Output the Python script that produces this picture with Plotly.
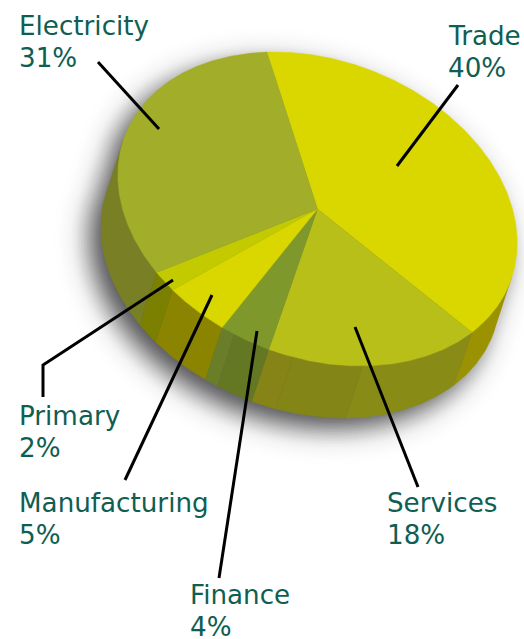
import math
import numpy as np
import plotly.graph_objects as go

# Share of each sector, clockwise from the top of the disc
categories = ["Trade", "Services", "Finance", "Manufacturing", "Primary", "Electricity"]
shares = [40, 18, 4, 5, 2, 31]
top_colors = ["#DAD700", "#B9BF19", "#7F982B", "#DAD700", "#C3CB00", "#A2AE2A"]

# Wall shading per sector: fraction of the sector's arc and its colour
wall_facets = [
    [(1.0, "#9A9200")],
    [(0.58, "#888C16"), (0.31, "#838517"), (0.11, "#868416")],
    [(0.73, "#647824"), (0.27, "#6A7D29")],
    [(1.0, "#8A8400")],
    [(1.0, "#7B8000")],
    [(1.0, "#787F24")],
]

# Disc projection: centre, semi-axes, tilt, starting angle, and wall depth
CX, CY = 317.5, 209.0
SEMI_A, SEMI_B = 206.0, 148.6
TILT = np.radians(20.8)
START = -120.0
DEPTH_X, DEPTH_Y = -17.0, 52.0
WALL_FROM, WALL_TO = -2.0, 178.0

# Drop shadow: offset, blur spread and peak opacity
SHADOW_DX, SHADOW_DY = -11.0, 11.0
SHADOW_SIGMA = 13.0
SHADOW_PEAK = 0.92

# Label left edge and first-line baseline, then leader polylines
label_pos = {
    "Trade": (447, 46),
    "Services": (386, 513),
    "Finance": (189, 605),
    "Manufacturing": (18, 513),
    "Primary": (18, 426),
    "Electricity": (18, 36),
}
LINE_PITCH = 32
leaders = {
    "Trade": [(458, 85), (397, 166)],
    "Services": [(355, 327), (418, 487)],
    "Finance": [(257, 331), (219, 578)],
    "Manufacturing": [(212, 295), (125, 480)],
    "Primary": [(173, 280), (43, 365), (43, 397)],
    "Electricity": [(98, 62), (159, 129)],
}
TEXT_COLOR = "#0F5E52"
FONT_SIZE = 26.2


def rim(deg):
    t = np.radians(np.asarray(deg, dtype=float))
    u, v = SEMI_A * np.cos(t), SEMI_B * np.sin(t)
    return CX + u * np.cos(TILT) - v * np.sin(TILT), CY + u * np.sin(TILT) + v * np.cos(TILT)


def arc(a, b):
    return np.linspace(a, b, max(int(abs(b - a) * 2), 2))


def offset_outline(x, y, d):
    """Push a closed clockwise outline outward by d pixels along its normals."""
    dx = np.roll(x, -1) - np.roll(x, 1)
    dy = np.roll(y, -1) - np.roll(y, 1)
    n = np.hypot(dx, dy)
    n[n == 0] = 1
    return x + d * dy / n, y - d * dx / n


fig = go.Figure()

# Soft shadow built from stacked dilated silhouettes, outermost first
x_top, y_top = rim(arc(WALL_TO, WALL_FROM + 360))
x_bot, y_bot = rim(arc(WALL_FROM, WALL_TO))
sx = np.concatenate([x_top, x_bot + DEPTH_X]) + SHADOW_DX
sy = np.concatenate([y_top, y_bot + DEPTH_Y]) + SHADOW_DY
dists = np.arange(36, -30, -1.5)
prev = 0.0
for d in dists:
    tgt = SHADOW_PEAK * 0.5 * (1 - math.erf(d / SHADOW_SIGMA / math.sqrt(2)))
    alpha = 1 - (1 - tgt) / (1 - prev)
    prev = tgt
    ox, oy = offset_outline(sx, sy, d)
    fig.add_trace(go.Scatter(
        x=np.append(ox, ox[0]), y=np.append(oy, oy[0]), mode="lines", fill="toself",
        fillcolor=f"rgba(66,66,70,{alpha:.4f})", line=dict(width=0, simplify=False),
        hoverinfo="skip", showlegend=False))

# Wall facets, then the top slices
edges = START + np.cumsum([0] + [s * 3.6 for s in shares])
for i, name in enumerate(categories):
    pos = edges[i]
    for frac, color in wall_facets[i]:
        a0, a1 = pos, pos + frac * (edges[i + 1] - edges[i])
        pos = a1
        lo, hi = max(a0, WALL_FROM), min(a1, WALL_TO)
        if hi > lo:
            xs, ys = rim(arc(lo, hi))
            fig.add_trace(go.Scatter(
                x=np.concatenate([xs, xs[::-1] + DEPTH_X]),
                y=np.concatenate([ys, ys[::-1] + DEPTH_Y]),
                mode="lines", fill="toself", fillcolor=color,
                line=dict(color=color, width=0.5), hoverinfo="skip", showlegend=False))

for i, name in enumerate(categories):
    xs, ys = rim(arc(edges[i], edges[i + 1]))
    fig.add_trace(go.Scatter(
        x=np.concatenate([[CX], xs, [CX]]), y=np.concatenate([[CY], ys, [CY]]),
        mode="lines", fill="toself", fillcolor=top_colors[i],
        line=dict(color=top_colors[i], width=0.5), name=name, showlegend=False))

# Leader lines over the pie
for name, pts in leaders.items():
    fig.add_trace(go.Scatter(
        x=[p[0] for p in pts], y=[p[1] for p in pts], mode="lines",
        line=dict(color="black", width=3), hoverinfo="skip", showlegend=False))

# Two-line labels with a fixed baseline pitch
for name, share in zip(categories, shares):
    lx, base = label_pos[name]
    for line, text in enumerate([name, f"{share}%"]):
        fig.add_annotation(
            x=lx, y=base + line * LINE_PITCH - 10, xref="x", yref="y",
            text=text, showarrow=False, align="left",
            xanchor="left", yanchor="middle", borderpad=0,
            font=dict(family="DejaVu Sans", size=FONT_SIZE, color=TEXT_COLOR))

fig.update_layout(
    width=524, height=639, margin=dict(l=0, r=0, t=0, b=0),
    paper_bgcolor="white", plot_bgcolor="white", showlegend=False,
    xaxis=dict(range=[0, 524], visible=False, fixedrange=True),
    yaxis=dict(range=[639, 0], visible=False, fixedrange=True),
)
fig.write_html("out.html", config={"displayModeBar": False})
